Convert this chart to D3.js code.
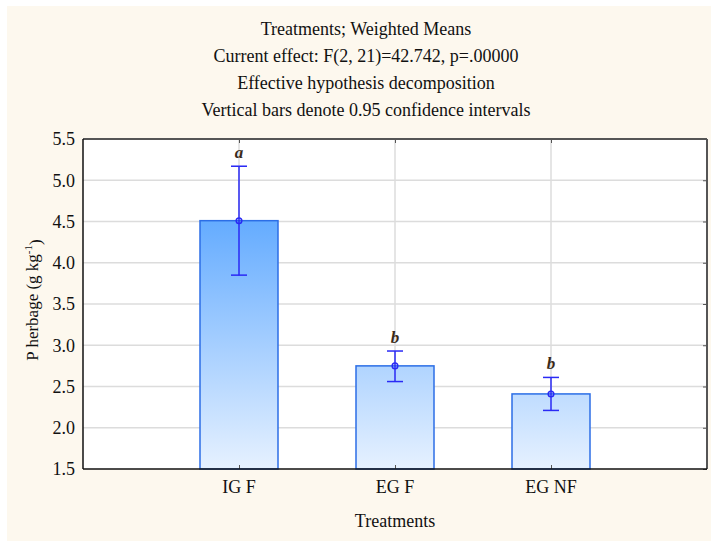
<!DOCTYPE html>
<html>
<head>
<meta charset="utf-8">
<script src="https://cdn.jsdelivr.net/npm/d3@7"></script>
<style>
  body { margin: 0; background: #fff; }
  svg text { font-family: "Liberation Serif", "DejaVu Serif", serif !important; fill: #111; }
</style>
</head>
<body>
<div id="chart"></div>
<script>
var treatments = ["IG F", "EG F", "EG NF"];
var means = [4.51, 2.75, 2.41];
var ciLow = [3.85, 2.56, 2.21];
var ciHigh = [5.17, 2.93, 2.61];
var letters = ["a", "b", "b"];
var yTicks = [1.5, 2.0, 2.5, 3.0, 3.5, 4.0, 4.5, 5.0, 5.5];
var titleLines = [
  "Treatments; Weighted Means",
  "Current effect: F(2, 21)=42.742, p=.00000",
  "Effective hypothesis decomposition",
  "Vertical bars denote 0.95 confidence intervals"
];

var W = 711, H = 542;
var margin = { top: 139, right: 4, bottom: 73, left: 83 };
var width = W - margin.left - margin.right,
  height = H - margin.top - margin.bottom;

var svg = d3.select("#chart").append("svg")
  .attr("width", W)
  .attr("height", H);

// cream panel
svg.append("rect")
  .attr("x", 7).attr("y", 6)
  .attr("width", W - 7).attr("height", H - 7)
  .attr("fill", "#fdf8ee");

var defs = svg.append("defs");
var grad = defs.append("linearGradient")
  .attr("id", "barGrad")
  .attr("gradientUnits", "userSpaceOnUse")
  .attr("x1", 0).attr("y1", 0).attr("x2", 0).attr("y2", height);
grad.append("stop").attr("offset", "0%").attr("stop-color", "#3a95ff");
grad.append("stop").attr("offset", "100%").attr("stop-color", "#e6f1ff");

// titles
svg.selectAll(".title")
  .data(titleLines)
  .enter().append("text")
  .attr("class", "title")
  .attr("x", 366)
  .attr("y", function (d, i) { return 29 + i * 27; })
  .attr("dy", "0.35em")
  .attr("text-anchor", "middle")
  .style("font-size", "18px")
  .text(function (d) { return d; });

var g = svg.append("g")
  .attr("transform", "translate(" + margin.left + "," + margin.top + ")");

g.append("rect")
  .attr("width", width).attr("height", height)
  .attr("fill", "#fff");

var x = d3.scalePoint()
  .domain(treatments)
  .range([0, width])
  .padding(1);

var y = d3.scaleLinear()
  .domain([1.5, 5.5])
  .range([height, 0]);

// gridlines
g.selectAll(".hgrid")
  .data(yTicks.slice(1, -1))
  .enter().append("line")
  .attr("x1", 0).attr("x2", width)
  .attr("y1", function (d) { return y(d); })
  .attr("y2", function (d) { return y(d); })
  .attr("stroke", "#dcdcdc")
  .attr("stroke-width", 1.5);

g.selectAll(".vgrid")
  .data(treatments)
  .enter().append("line")
  .attr("x1", function (d) { return x(d); })
  .attr("x2", function (d) { return x(d); })
  .attr("y1", 0).attr("y2", height)
  .attr("stroke", "#dcdcdc")
  .attr("stroke-width", 1.5);

// bars
var bw = x.step() / 2;
g.selectAll(".bar")
  .data(treatments)
  .enter().append("rect")
  .attr("x", function (d) { return x(d) - bw / 2; })
  .attr("y", function (d, i) { return y(means[i]); })
  .attr("width", bw)
  .attr("height", function (d, i) { return height - y(means[i]); })
  .attr("fill", "url(#barGrad)")
  .attr("stroke", "#2c6ee6")
  .attr("stroke-width", 1.5);

// error bars
var eb = g.selectAll(".err")
  .data(treatments)
  .enter().append("g")
  .attr("stroke", "#2a2af5")
  .attr("stroke-width", 1.5)
  .attr("fill", "none");
eb.append("line")
  .attr("x1", function (d) { return x(d); })
  .attr("x2", function (d) { return x(d); })
  .attr("y1", function (d, i) { return y(ciLow[i]); })
  .attr("y2", function (d, i) { return y(ciHigh[i]); });
eb.append("line")
  .attr("x1", function (d) { return x(d) - 8; })
  .attr("x2", function (d) { return x(d) + 8; })
  .attr("y1", function (d, i) { return y(ciLow[i]); })
  .attr("y2", function (d, i) { return y(ciLow[i]); });
eb.append("line")
  .attr("x1", function (d) { return x(d) - 8; })
  .attr("x2", function (d) { return x(d) + 8; })
  .attr("y1", function (d, i) { return y(ciHigh[i]); })
  .attr("y2", function (d, i) { return y(ciHigh[i]); });
eb.append("circle")
  .attr("cx", function (d) { return x(d); })
  .attr("cy", function (d, i) { return y(means[i]); })
  .attr("r", 2.8);

// significance letters
g.selectAll(".letter")
  .data(treatments)
  .enter().append("text")
  .attr("x", function (d) { return x(d); })
  .attr("y", function (d, i) { return y(ciHigh[i]) - 14; })
  .attr("dy", "0.35em")
  .attr("text-anchor", "middle")
  .style("font-size", "17px")
  .style("font-style", "italic")
  .style("font-weight", "bold")
  .style("fill", "#3a2a1a")
  .text(function (d, i) { return letters[i]; });

// axes
var yAxis = g.append("g")
  .call(d3.axisLeft(y).tickValues(yTicks).tickFormat(d3.format(".1f")).tickSize(0).tickPadding(8));
yAxis.select(".domain").remove();
yAxis.selectAll("text").style("font-size", "18px").attr("fill", "#111");

var rAxis = g.append("g")
  .attr("transform", "translate(" + width + ",0)")
  .call(d3.axisLeft(y).tickValues(yTicks).tickSize(4).tickFormat(""));
rAxis.select(".domain").remove();
rAxis.selectAll("line").attr("stroke", "#555");

var xAxis = g.append("g")
  .attr("transform", "translate(0," + height + ")")
  .call(d3.axisTop(x).tickSize(4).tickFormat(""));
xAxis.select(".domain").remove();
xAxis.selectAll("line").attr("stroke", "#555");

var tAxis = g.append("g")
  .call(d3.axisBottom(x).tickSize(4).tickFormat(""));
tAxis.select(".domain").remove();
tAxis.selectAll("line").attr("stroke", "#555");

g.selectAll(".xlab")
  .data(treatments)
  .enter().append("text")
  .attr("x", function (d) { return x(d); })
  .attr("y", height + 18)
  .attr("dy", "0.35em")
  .attr("text-anchor", "middle")
  .style("font-size", "18px")
  .text(function (d) { return d; });

// frame
g.append("line").attr("x1", 0).attr("x2", width).attr("y1", 0).attr("y2", 0)
  .attr("stroke", "#555").attr("stroke-width", 2);
g.append("line").attr("x1", width).attr("x2", width).attr("y1", 0).attr("y2", height)
  .attr("stroke", "#555").attr("stroke-width", 2);
g.append("line").attr("x1", 0).attr("x2", width).attr("y1", height).attr("y2", height)
  .attr("stroke", "#111").attr("stroke-width", 1.5);
g.append("line").attr("x1", 0).attr("x2", 0).attr("y1", 0).attr("y2", height)
  .attr("stroke", "#111").attr("stroke-width", 1.5);

// axis titles
svg.append("text")
  .attr("x", margin.left + width / 2)
  .attr("y", 521)
  .attr("dy", "0.35em")
  .attr("text-anchor", "middle")
  .style("font-size", "18px")
  .text("Treatments");

var yt = svg.append("text")
  .attr("transform", "translate(32,300) rotate(-90)")
  .attr("dy", "0.35em")
  .attr("text-anchor", "middle")
  .style("font-size", "17px");
yt.append("tspan").text("P herbage (g kg");
yt.append("tspan").attr("dy", "-0.5em").style("font-size", "11px").text("-1");
yt.append("tspan").attr("dy", "0.5em").text(")");
</script>
</body>
</html>
